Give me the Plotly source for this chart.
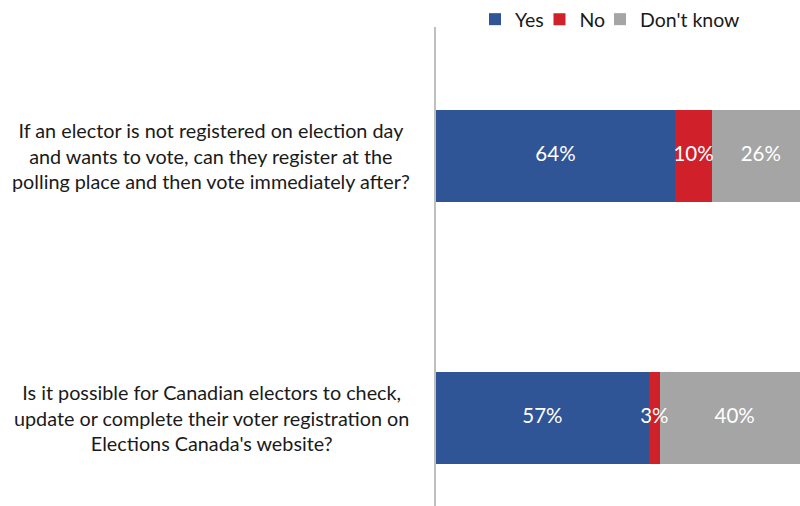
import plotly.graph_objects as go

questions = [
    "If an elector is not registered on election day<br>and wants to vote, can they register at the<br>polling place and then vote immediately after?",
    "Is it possible for Canadian electors to check,<br>update or complete their voter registration on<br>Elections Canada's website?",
]
series_names = ["Yes", "No", "Don't know"]
yes_vals = [64, 57]
no_vals = [10, 3]
dk_vals = [26, 40]
colors = ["#2F5597", "#D0202A", "#A5A5A5"]
legend_ids = ["legend", "legend2", "legend3"]
legend_x = [0.1071, 0.2843, 0.4505]

FONT = "Lato, Carlito, 'Open Sans', sans-serif"

series = [yes_vals, no_vals, dk_vals]
fig = go.Figure()
for name, vals, col, lg in zip(series_names, series, colors, legend_ids):
    fig.add_trace(go.Bar(
        y=questions, x=vals, name=name, orientation="h",
        marker=dict(color=col, line=dict(width=0)),
        width=0.352, legend=lg, hoverinfo="x+name",
    ))

# data labels on top of all bars (centred in each segment)
lab_x, lab_y, lab_t = [], [], []
for i, q in enumerate(questions):
    base = 0
    for vals in series:
        v = vals[i]
        lab_x.append(base + v / 2)
        lab_y.append(q)
        lab_t.append(f"{v}%")
        base += v
fig.add_trace(go.Scatter(
    x=lab_x, y=lab_y, text=lab_t, mode="text", showlegend=False,
    textposition="middle center", cliponaxis=False, hoverinfo="skip",
    textfont=dict(color="white", size=20.5, family=FONT),
))

for q in questions:
    fig.add_annotation(x=-0.618, xref="paper", y=q, yref="y", text=q,
                       showarrow=False, xanchor="center", align="center",
                       font=dict(size=19.8, color="#1a1a1a", family=FONT))

leg_common = dict(orientation="h", xanchor="left", yref="container", y=0.9615,
                  yanchor="middle",
                  font=dict(size=19.5, color="#1a1a1a", family=FONT),
                  bgcolor="rgba(0,0,0,0)")
layout_legends = {}
for lg, lx in zip(legend_ids, legend_x):
    layout_legends[lg] = dict(leg_common, x=lx)

fig.update_layout(
    barmode="stack",
    width=800, height=506,
    margin=dict(l=436, r=0, t=27, b=0, autoexpand=False),
    plot_bgcolor="white", paper_bgcolor="white",
    showlegend=True,
    xaxis=dict(range=[0, 97.5], visible=False, fixedrange=True),
    yaxis=dict(type="category", categoryorder="array", categoryarray=questions,
               range=[1.338, -0.493], showticklabels=False, showgrid=False,
               showline=True, linecolor="#BFBFBF", linewidth=2, zeroline=False,
               fixedrange=True),
)
fig.update_layout(**layout_legends)

fig.write_html(
    "out.html",
    config={"displayModeBar": False},
    post_script="document.body.style.margin='0px';document.documentElement.style.overflow='hidden';document.body.style.overflow='hidden';",
)
